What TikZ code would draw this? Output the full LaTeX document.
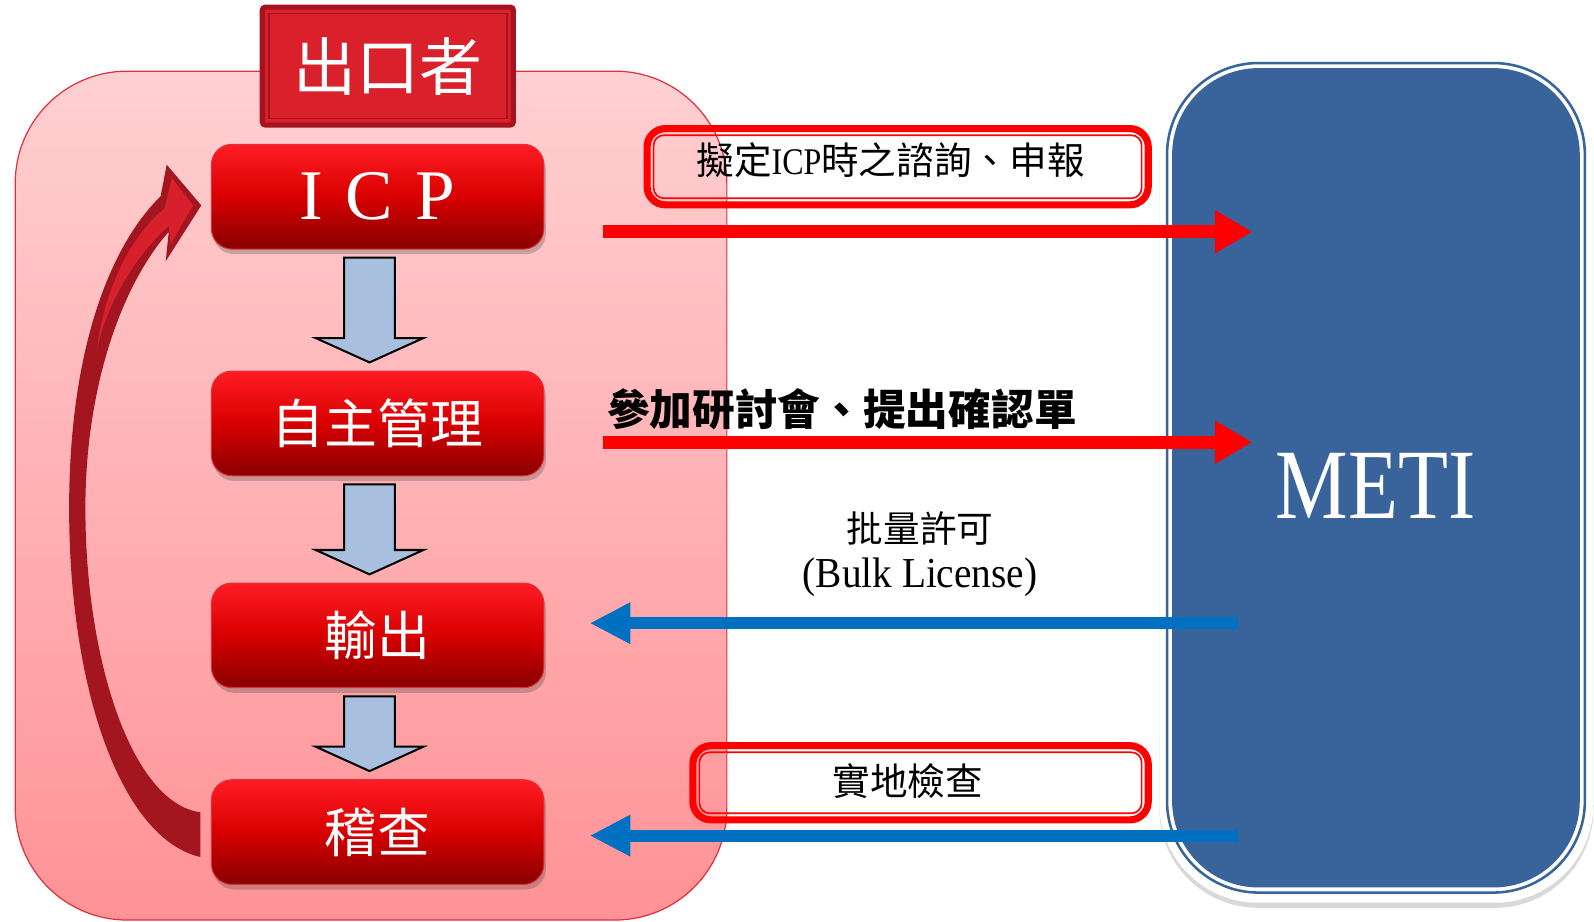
\documentclass[tikz,border=0pt]{standalone}
\usepackage{fontspec}
\usepackage{graphicx}
\setmainfont{Liberation Serif}
\newfontfamily\cjk{Noto Sans CJK TC}
\usetikzlibrary{calc,shadows,arrows.meta}
\definecolor{pinkTop}{HTML}{FFD0D2}
\definecolor{pinkBot}{HTML}{FF9296}
\definecolor{contEdge}{HTML}{E0303C}
\definecolor{boxTop}{HTML}{FF1C24}
\definecolor{boxMid}{HTML}{D80000}
\definecolor{boxBot}{HTML}{880000}
\definecolor{titleFill}{HTML}{D9202B}
\definecolor{titleEdge}{HTML}{A5141E}
\definecolor{blockFill}{HTML}{A9BFE0}
\definecolor{arrowRed}{HTML}{FF0000}
\definecolor{arrowBlue}{HTML}{0070C0}
\definecolor{metiBlue}{HTML}{38639B}
\definecolor{curveDark}{HTML}{A3151F}
\definecolor{curveLight}{HTML}{D7202C}
\newcommand\blockdown[2]{%
  \path[blockarrow] let \p1=($(#1.south)+(-8,8)$), \p2=($(#2.north)+(-8,-8)$) in
    (\x1-25pt,\y1) -- (\x1+25pt,\y1) -- (\x1+25pt,\y2+24pt) -- (\x1+53pt,\y2+24pt)
    -- (\x1,\y2) -- (\x1-53pt,\y2+24pt) -- (\x1-25pt,\y2+24pt) -- cycle;}
\begin{document}
\begin{tikzpicture}[x=1pt,y=-1pt,
  container/.style={minimum width=700pt, minimum height=835pt, rounded corners=110pt,
    top color=pinkTop, bottom color=pinkBot, draw=contEdge, line width=1.2pt, inner sep=0pt},
  titlebox/.style={minimum width=247pt, minimum height=116pt, fill=titleFill, draw=titleEdge,
    line width=5pt, rounded corners=3pt, text=white, inner sep=0pt,
    font=\cjk\fontsize{62}{64}\selectfont},
  stepbox/.style={rounded corners=20pt, minimum width=327pt, minimum height=103pt, inner sep=0pt,
    top color=boxTop, bottom color=boxBot, middle color=boxMid, draw=contEdge, line width=1pt,
    text=white, font=\cjk\fontsize{52}{60}\selectfont,
    drop shadow={shadow xshift=2pt, shadow yshift=-5pt, opacity=0.3, fill=black!70}},
  blockarrow/.style={fill=blockFill, draw=black, line width=2pt, line join=miter},
  frameouter/.style={minimum width=427pt, minimum height=831pt, rounded corners=97pt, fill=white,
    inner sep=0pt, drop shadow={shadow xshift=0pt, shadow yshift=-5pt, opacity=0.25, fill=black!60}},
  frameline/.style={minimum width=411pt, minimum height=816pt, rounded corners=90pt,
    draw=metiBlue, line width=2.5pt, inner sep=0pt},
  framefill/.style={minimum width=401pt, minimum height=806pt, rounded corners=85pt,
    fill=metiBlue, inner sep=0pt},
  outerline/.style={draw=arrowRed, line width=7pt, rounded corners=18pt, inner sep=0pt},
  innerline/.style={draw=arrowRed, line width=1.6pt, rounded corners=10pt},
  lab/.style={inner sep=0pt, text=black},
  redarr/.style={draw=arrowRed, line width=12.6pt, -{Triangle[length=37pt,width=40pt]}},
  bluearr/.style={draw=arrowBlue, line width=12pt, -{Triangle[length=40pt,width=38pt]}}
]
\useasboundingbox (0,0) rectangle (1568,906);

% exporter container
\node[container] (exporter) at (365,487.5) {};
\node[titlebox] (title) at (381.5,65) {出口者};
\draw[titleEdge, line width=1.5pt] ($(title.north west)+(9,9)$) rectangle ($(title.south east)+(-9,-9)$);

% METI
\node[frameouter] (metiframe) at (1354,472.5) {};
\node[frameline] (metiline) at (1353.5,470) {};
\node[framefill] (meti) at (1353.5,470) {};
\node[lab, text=white, font=\fontsize{98}{98}\selectfont] (metitext) at (1353,478) {\scalebox{0.82}[1]{METI}};

% steps
\node[stepbox, font=\fontsize{70}{72}\selectfont] (icp) at (371.5,193.5) {I\hspace{22pt}C\hspace{22pt}P};
\node[stepbox] (self) at (371.5,416.5) {自主管理};
\node[stepbox] (export) at (371.5,625) {輸出};
\node[stepbox] (audit) at (371.5,818.5) {稽查};

\blockdown{icp}{self}
\blockdown{self}{export}
\blockdown{export}{audit}

% curved return arrow
\fill[curveDark] (197,843) .. controls (120,825) and (68,680) .. (68,500)
  .. controls (68,340) and (110,240) .. (158,193)
  -- (164,162) -- (198,202) -- (163,257) -- (166,228)
  .. controls (120,280) and (84,380) .. (84,500)
  .. controls (84,650) and (130,790) .. (197,799) -- cycle;
\fill[curveLight] (169,175) -- (190,202) -- (168,240) -- (166,222)
  .. controls (130,255) and (105,300) .. (95,345)
  .. controls (102,290) and (125,235) .. (162,205) -- cycle;

% message boxes
\node[outerline, minimum width=493pt, minimum height=75pt] (msg1) at (883,164) {};
\draw[innerline] ($(msg1.north west)+(10,10)$) rectangle ($(msg1.south east)+(-10,-10)$);
\node[lab, font=\cjk\fontsize{37}{40}\selectfont] (t1) at (876,158)
  {擬定{\fontspec{Liberation Serif}\scalebox{0.85}[1]{ICP}}時之諮詢、申報};

\node[lab, anchor=west, font=\cjk\bfseries\fontsize{42}{50}\selectfont] (t2) at (597,403) {參加研討會、提出確認單};

\node[lab, font=\cjk\fontsize{36}{40}\selectfont] (t3) at (905,520) {批量許可};
\node[lab, font=\fontsize{42}{44}\selectfont] (t4) at (905,568) {\scalebox{0.92}[1]{(Bulk License)}};

\node[outerline, minimum width=448pt, minimum height=73pt] (msg2) at (905.5,770) {};
\draw[innerline] ($(msg2.north west)+(10,10)$) rectangle ($(msg2.south east)+(-10,-10)$);
\node[lab, font=\cjk\fontsize{37}{40}\selectfont] (t5) at (893,768) {實地檢查};

% flows
\coordinate (r1s) at (593,228); \coordinate (r1e) at (1232,228);
\coordinate (r2s) at (593,435); \coordinate (r2e) at (1232,435);
\coordinate (b1s) at (1218,613); \coordinate (b1e) at (580,613);
\coordinate (b2s) at (1218,822); \coordinate (b2e) at (580,822);
\draw[redarr] (r1s) -- (r1e);
\draw[redarr] (r2s) -- (r2e);
\draw[bluearr] (b1s) -- (b1e);
\draw[bluearr] (b2s) -- (b2e);
\end{tikzpicture}
\end{document}
